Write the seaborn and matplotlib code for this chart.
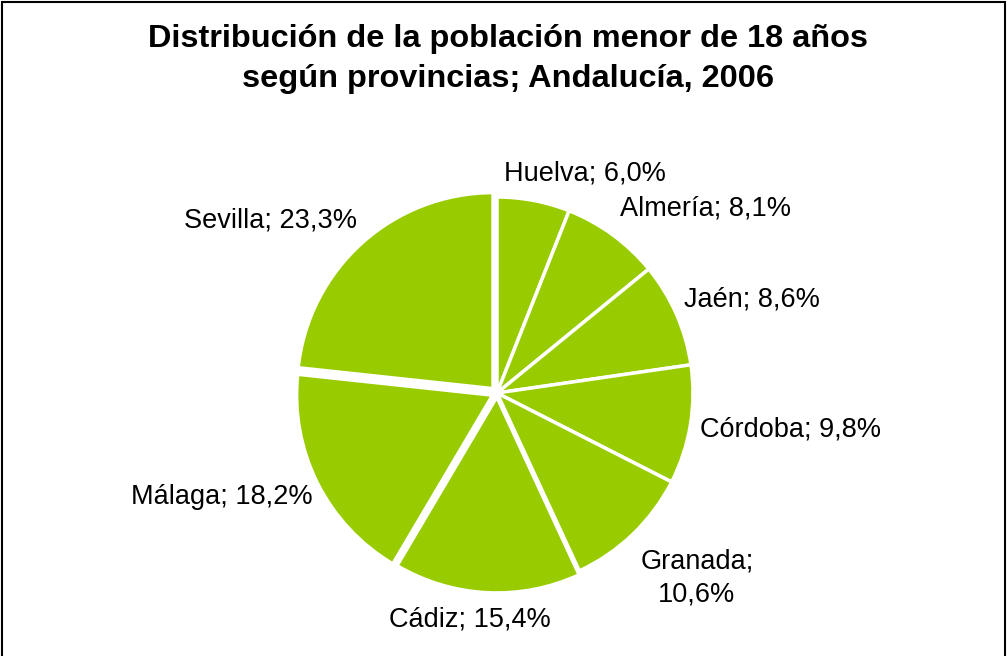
import matplotlib
matplotlib.use("Agg")
import matplotlib.pyplot as plt
import matplotlib.patches as mpatches
import seaborn as sns

provinces = ["Huelva", "Almería", "Jaén", "Córdoba", "Granada", "Cádiz", "Málaga", "Sevilla"]
shares = [6.0, 8.1, 8.6, 9.8, 10.6, 15.4, 18.2, 23.3]
label_texts = ["Huelva; 6,0%", "Almería; 8,1%", "Jaén; 8,6%", "Córdoba; 9,8%",
               "Granada;\n10,6%", "Cádiz; 15,4%", "Málaga; 18,2%", "Sevilla; 23,3%"]
title = "Distribución de la población menor de 18 años\nsegún provincias; Andalucía, 2006"

sns.set_theme(style="white")
plt.rcParams['font.family'] = ['Liberation Sans', 'DejaVu Sans']

W, H = 1008, 656
fig = plt.figure(figsize=(W / 100, H / 100), dpi=100)
fig.patch.set_facecolor("white")

cx, cy, r = 497, 393, 196
ax = fig.add_axes([(cx - r) / W, (H - cy - r) / H, 2 * r / W, 2 * r / H])
green = "#99CC00"
explode = [0, 0, 0, 0, 0, 0.02, 0.025, 0.03]
wedges, _ = ax.pie(shares, startangle=90, counterclock=False, colors=[green] * len(shares),
                   explode=explode, radius=1.0,
                   wedgeprops=dict(edgecolor="white", linewidth=2.5))
ax.set_xlim(-1, 1)
ax.set_ylim(-1, 1)
ax.set_aspect("equal")
ax.axis("off")

# label centres in pixel coordinates
label_px = [(585, 173), (705, 208), (752, 300), (790, 430), (697, 578),
            (470, 620), (222, 497), (270, 220)]
for txt, (px, py) in zip(label_texts, label_px):
    fig.text(px / W, 1 - py / H, txt, ha="center", va="center", fontsize=19.5,
             color="black", linespacing=1.35)

fig.text(508 / W, 1 - 59 / H, title, ha="center", va="center", fontsize=23.4,
         fontweight="bold", color="black", linespacing=1.47)

border = mpatches.Rectangle((2 / W, -0.05), (1005 - 2) / W, 1 - 2 / H + 0.05,
                            transform=fig.transFigure, fill=False,
                            edgecolor="black", linewidth=1.5)
fig.patches.append(border)

fig.savefig("out.png", dpi=100, facecolor="white")
